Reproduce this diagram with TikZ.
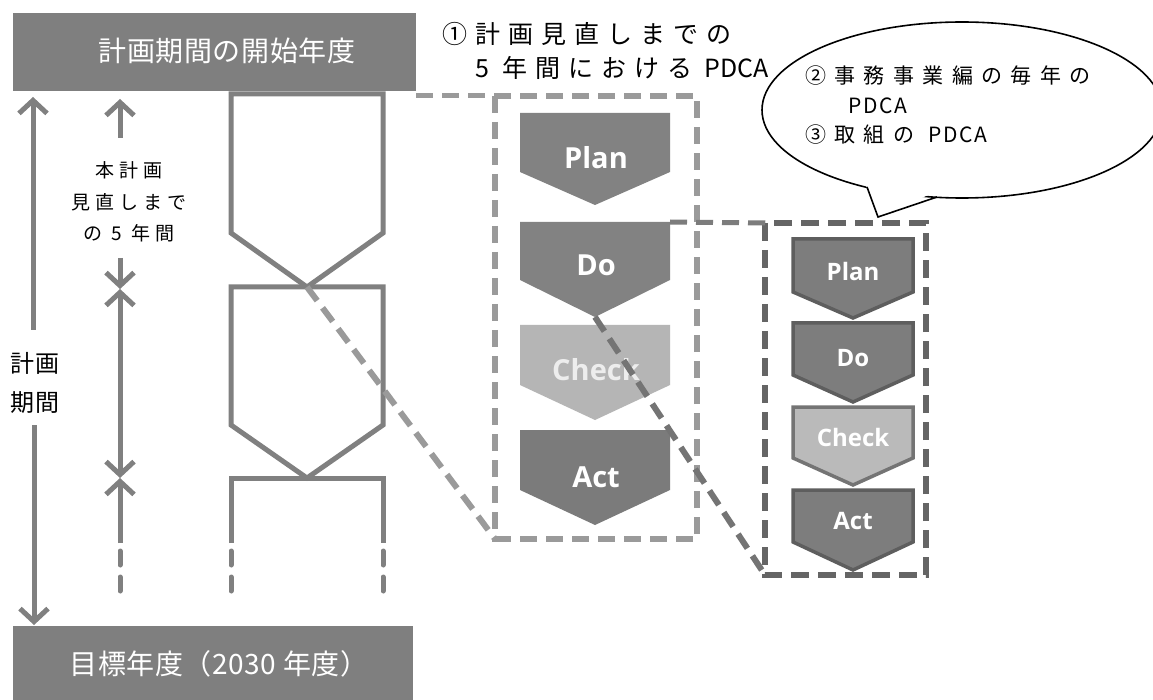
\documentclass[tikz,border=0pt]{standalone}
\usepackage{fontspec}
\setmainfont{Noto Sans CJK JP}
\newfontfamily\pdcafont{Open Sans}
\usetikzlibrary{arrows.meta,shapes.geometric}
\newcommand\myfs[1]{\fontsize{#1}{#1}\selectfont}
\newcommand\lsp[1]{\addfontfeature{LetterSpace=#1}}
\definecolor{boxgray}{HTML}{7F7F7F}
\definecolor{linegray}{HTML}{808080}
\definecolor{midgray}{HTML}{9A9A9A}
\definecolor{darkdash}{HTML}{656565}
\definecolor{pdcadark}{HTML}{828282}
\definecolor{pdcalight}{HTML}{B5B5B5}
\definecolor{rdark}{HTML}{7D7D7D}
\definecolor{rborder}{HTML}{5E5E5E}
\definecolor{rlight}{HTML}{BABABA}
\definecolor{rlborder}{HTML}{747474}
\tikzset{
  hexline/.style={draw=linegray, line width=5pt, line join=miter},
  garrow/.style={draw=linegray, line width=5pt, -{Straight Barb[length=13pt,width=28pt]}},
  gline/.style={draw=linegray, line width=5pt},
  middash/.style={draw=midgray, line width=6pt, dash pattern=on 17pt off 9pt},
  rightdash/.style={draw=darkdash, line width=6pt, dash pattern=on 18pt off 9pt},
  bigbox/.style={fill=boxgray, inner sep=0pt},
  boxtext/.style={text=white, inner sep=0pt, font=\myfs{28}\lsp{2}},
  pdcatext/.style={text=white, inner sep=0pt, font=\pdcafont\bfseries\myfs{29}},
  rpdcatext/.style={text=white, inner sep=0pt, font=\pdcafont\bfseries\myfs{24}},
  midshape/.style={fill=pdcadark},
  rshape/.style={fill=rdark, draw=rborder, line width=3.5pt, line join=miter},
  rlshape/.style={fill=rlight, draw=rlborder, line width=3.5pt, line join=miter},
  lbl/.style={inner sep=0pt, text=black},
  sidetext/.style={lbl, font=\myfs{19}\lsp{26}},
  ttext/.style={lbl, anchor=west, font=\myfs{25}},
  ctext/.style={lbl, anchor=west, font=\myfs{21}},
}
\begin{document}
\begin{tikzpicture}[x=1pt,y=-1pt]
\useasboundingbox[fill=white] (0,0) rectangle (1153,700);

% top and bottom boxes
\node[bigbox, minimum width=403pt, minimum height=78pt, anchor=north west] (startbox) at (13,13) {};
\node[boxtext] (starttext) at (227,51) {計画期間の開始年度};
\node[bigbox, minimum width=400pt, minimum height=80pt, anchor=north west] (endbox) at (13,626) {};
\node[boxtext] (endtext) at (219,664) {目標年度（2030 年度）};

% left long arrow with label
\node[lbl, font=\myfs{24}\lsp{8}] (period1) at (35,363) {計画};
\node[lbl, font=\myfs{24}\lsp{8}] (period2) at (35,403) {期間};
\coordinate (lA1) at (33,330);
\coordinate (lA1t) at (33,97);
\coordinate (lA2) at (34,425);
\coordinate (lA2t) at (34,625);
\draw[garrow] (lA1) -- (lA1t);
\draw[garrow] (lA2) -- (lA2t);

% second column arrows
\node[sidetext] (rev1) at (129,170) {本計画};
\node[sidetext] (rev2) at (129,202) {見直しまで};
\node[sidetext] (rev3) at (129,233) {の 5 年間};
\coordinate (c1) at (120,138);
\coordinate (c1t) at (120,99);
\coordinate (c2) at (120,258);
\coordinate (c2t) at (120,289);
\coordinate (c3t) at (120,478);
\coordinate (c4) at (120,543);
\coordinate (c4d) at (120,595);
\draw[garrow] (c1) -- (c1t);
\draw[garrow] (c2) -- (c2t);
\draw[draw=linegray, line width=5pt, {Straight Barb[length=13pt,width=28pt]}-{Straight Barb[length=13pt,width=28pt]}] (c2t) -- (c3t);
\draw[garrow] (c4) -- (c3t);
\draw[gline, line cap=round, dash pattern=on 14pt off 12pt] ([yshift=-8pt]c4) -- (c4d);

% hexagon timeline shapes
\coordinate (h1a) at (231,94);
\coordinate (h1b) at (383,94);
\coordinate (hx1) at (307,287);
\coordinate (hx2) at (307,478);
\draw[hexline] (h1a) -- (231,233) -- (hx1) -- (383,233) -- (h1b) -- cycle;
\draw[hexline] (231,287) -- (383,287) -- (383,425) -- (hx2) -- (231,425) -- cycle;
\draw[hexline] (231,543) -- (231,478) -- (383,478) -- (383,543);
\draw[gline, line cap=round, dash pattern=on 14pt off 12pt] (231,551) -- (231,592);
\draw[gline, line cap=round, dash pattern=on 14pt off 12pt] (383,551) -- (383,592);

% middle PDCA
\coordinate (mtl) at (495,96);
\coordinate (mbl) at (495,539);
\draw[middash] (mtl) rectangle (697,539);
\fill[midshape] (520,113) -- (670,113) -- (670,172) -- (595,205) -- (520,172) -- cycle;
\fill[midshape] (520,222) -- (670,222) -- (670,280) -- (595,317) -- (520,280) -- cycle;
\fill[fill=pdcalight] (520,325) -- (670,325) -- (670,385) -- (595,420) -- (520,385) -- cycle;
\fill[midshape, fill=pdcadark!95!black] (520,430) -- (670,430) -- (670,490) -- (595,525) -- (520,490) -- cycle;
\coordinate (mdotr) at (670,222);
\coordinate (mdopt) at (595,317);
\node[pdcatext] (mplan) at (596,158) {Plan};
\node[pdcatext] (mdo) at (596,265) {Do};
\node[pdcatext, text=white!93!black] (mcheck) at (596,370) {Check};
\node[pdcatext] (mact) at (596,477) {Act};

% right PDCA
\coordinate (rtl) at (765,223);
\coordinate (rbl) at (765,575);
\draw[rightdash] (rtl) rectangle (926,575);
\draw[rshape] (793,239) -- (913,239) -- (913,292) -- (853,318) -- (793,292) -- cycle;
\draw[rshape] (793,323) -- (913,323) -- (913,375) -- (853,402) -- (793,375) -- cycle;
\draw[rlshape] (793,407) -- (913,407) -- (913,458) -- (853,485) -- (793,458) -- cycle;
\draw[rshape] (793,490) -- (913,490) -- (913,542) -- (853,570) -- (793,542) -- cycle;
\node[rpdcatext] (rplan) at (853,272) {Plan};
\node[rpdcatext] (rdo) at (853,358) {Do};
\node[rpdcatext] (rcheck) at (853,437) {Check};
\node[rpdcatext] (ract) at (853,521) {Act};

% connectors
\coordinate (sbr) at (416,96);
\draw[draw=midgray, line width=5pt, dash pattern=on 17pt off 9pt] (sbr) -- (mtl);
\draw[middash] (hx1) -- (mbl);
\draw[draw=darkdash!85!white, line width=5pt, dash pattern=on 17pt off 9pt] (mdotr) -- (rtl);
\draw[draw=darkdash!90!white, line width=6pt, dash pattern=on 17pt off 9pt] (mdopt) -- (rbl);

% title
\node[ttext] (title1) at (442,34) {{\lsp{32}①計画見直しまでの}};
\node[ttext] (title2) at (475,68) {{\lsp{32}5 年間における}\hspace{12pt}PDCA};

% callout
\node[draw=black, fill=white, line width=1.6pt, ellipse, minimum width=400pt, minimum height=176pt, inner sep=0pt] (bubble) at (962,110) {};
\coordinate (tailA) at (867,187);
\coordinate (tailT) at (878,217);
\coordinate (tailB) at (937,197);
\fill[white] (864,180) -- (tailT) -- (942,189) -- cycle;
\draw[black, line width=1.6pt, line join=miter] (tailA) -- (tailT) -- (tailB);
\node[ctext] (c1txt) at (805,76) {{\lsp{40}②事務事業編の毎年の}};
\node[ctext] (c2txt) at (848,106) {{\lsp{8}PDCA}};
\node[ctext] (c3txt) at (805,135) {{\lsp{40}③取組の}\hspace{14pt}{\lsp{8}PDCA}};
\end{tikzpicture}
\end{document}
